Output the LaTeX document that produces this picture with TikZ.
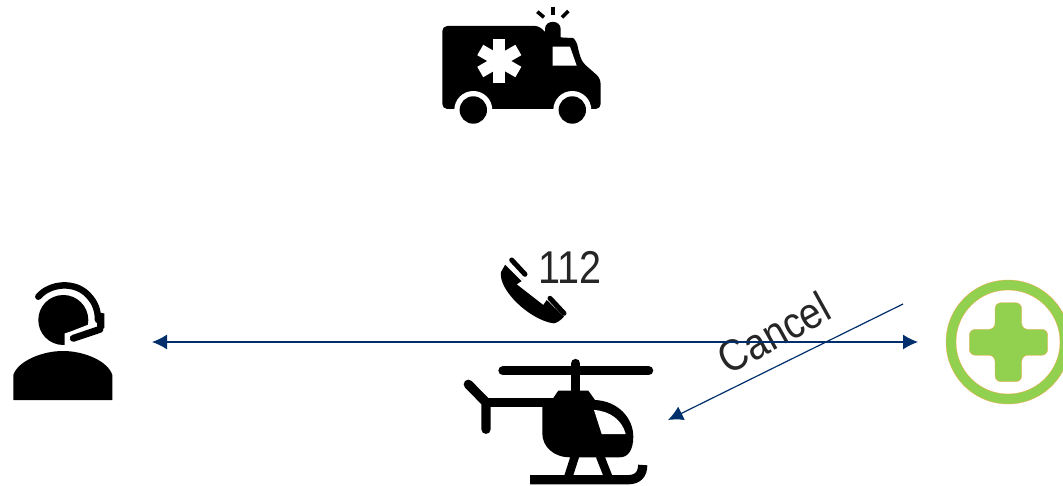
\documentclass[tikz,border=0pt]{standalone}
\usepackage{fontspec}
\setmainfont{Liberation Sans}
\usepackage{tikz}
\usetikzlibrary{arrows.meta,positioning,calc}
\definecolor{linkblue}{RGB}{0,47,108}
\definecolor{crossgreen}{RGB}{146,208,80}
\definecolor{labelgrey}{RGB}{38,38,38}
\tikzset{
    iconfill/.style={fill=black,draw=none},
    iconline/.style={draw=black,line width=9.3pt,line cap=round},
    iconspot/.style={inner sep=0pt,outer sep=0pt},
    linkarrow/.style={draw=linkblue,line width=1.2pt,-{Latex[length=15pt,width=15pt]}},
    linklabel/.style={text=labelgrey,inner sep=0pt}
}

\begin{document}
\begin{tikzpicture}[x=1pt,y=-1pt]
    \useasboundingbox (0,0) rectangle (1063,486);

    % invisible anchors of the four icons
    \node[iconspot,minimum width=180pt,minimum height=124pt] (operator) at (62,342) {};
    \node[iconspot,minimum width=180pt,minimum height=124pt] (hospital) at (1008,342) {};
    \node[iconspot,minimum width=222pt,minimum height=124pt] (helicopter) at (557,420) {};
    \node[iconspot,minimum width=160pt,minimum height=120pt] (ambulance) at (521,65) {};
    \coordinate (cancelstart) at (903,304);

    % ambulance
    \fill[iconfill,rounded corners=5pt] (442.3,26) -- (540,26) -- (545,33) -- (560.7,37.7) -- (568,37.7)
        .. controls (574,38) and (577,43) .. (578.3,50) -- (582,62) -- (600.5,78.3) -- (600.7,109) -- (442.3,109) -- cycle;
    \fill[iconfill] (545,36) -- (545,29) .. controls (545,19.5) and (560.7,19.5) .. (560.7,29) -- (560.7,38) -- cycle;
    \fill[white] (552.7,46.7) -- (570,46.7) -- (576.7,65.7) -- (552.7,65.7) -- cycle;
    \fill[white] (493.3,39) rectangle (505.3,83);
    \fill[white,rotate around={60:(499.3,61)}] (493.3,39) rectangle (505.3,83);
    \fill[white,rotate around={-60:(499.3,61)}] (493.3,39) rectangle (505.3,83);
    \fill[white] (473.3,110) circle[radius=19];
    \fill[white] (572.3,110) circle[radius=19];
    \fill[white] (450,109.5) rectangle (610,126);
    \fill[iconfill] (473.3,110) circle[radius=13.7];
    \fill[iconfill] (572.3,110) circle[radius=13.7];
    \draw[black,line width=3.6pt] (552.7,6.7) -- (552.7,15);
    \draw[black,line width=3.6pt] (537.3,11.7) -- (544,17.3);
    \draw[black,line width=3.6pt] (568.3,11) -- (562,17.3);

    % operator
    \fill[iconfill] (63.3,320) circle[radius=25];
    \fill[white] (64.5,333.5) -- (72,331) -- (95,322) -- (100,342) -- (64.5,348) -- cycle;
    \draw[black,line width=6.5pt,line cap=round] (38.3,296.7) .. controls (50,283) and (75,281) .. (88,295)
        .. controls (95,302) and (98,310) .. (98,320);
    \fill[iconfill] (97,312) -- (104.3,313.5) -- (104.3,328) -- (97,331) -- cycle;
    \draw[black,line width=7pt,line cap=round] (73.3,338.3) -- (100,329.3);
    \fill[iconfill] (13.3,400) -- (13.3,375) .. controls (18,361) and (42,351) .. (63,351)
        .. controls (84,351) and (108,361) .. (112.3,375) -- (112.3,400) -- cycle;

    % hospital
    \draw[even odd rule,fill=crossgreen,draw=orange!70,line width=0.3pt]
        (1008,342) circle[radius=62] (1008,342) circle[radius=52];
    \fill[crossgreen,draw=orange!70,line width=0.3pt,rounded corners=6pt]
        (995,302.7) -- (1021.7,302.7) -- (1021.7,329.3) -- (1047.7,329.3) -- (1047.7,355.3)
        -- (1021.7,355.3) -- (1021.7,381.7) -- (995,381.7) -- (995,355.3) -- (969.3,355.3)
        -- (969.3,329.3) -- (995,329.3) -- cycle;

    % helicopter
    \draw[iconline] (503,370.7) -- (648.6,370.7);
    \draw[iconline] (575.7,363.5) -- (575.7,392);
    \draw[iconline] (468.3,384.3) -- (486,402.3) -- (486,429.3);
    \fill[iconfill] (486,397.7) rectangle (556,407);
    \fill[iconfill] (558.3,390.7) -- (588.3,390.7) -- (595,400)
        .. controls (618,401) and (633.3,418) .. (633.3,436.7)
        .. controls (633.3,450) and (628,457.3) .. (620,457.3) -- (570,457.3)
        .. controls (553,457.3) and (542.3,446) .. (542.3,433.3) -- (542.3,405) -- (553.3,398) -- cycle;
    \fill[white] (594,410) -- (601.7,434) -- (625.7,434) .. controls (622,420) and (610,411) .. (594,410) -- cycle;
    \draw[black,line width=8.5pt] (575,456) -- (568.3,477);
    \draw[black,line width=8.5pt] (600,456) -- (608.3,477);
    \draw[black,line width=9.3pt] (530,479.7) -- (628,479.7) .. controls (638,479.7) and (642.7,474) .. (642.7,465);

    % handset
    \fill[iconfill] (506,263.3) -- (523.3,280) -- (516.7,284.3) -- (543.3,305) -- (546.7,300) -- (564,316.7)
        .. controls (560,321) and (556,323.3) .. (553.3,323.3)
        .. controls (530,320) and (498,290) .. (501,272) -- cycle;
    \draw[white,line width=2pt] (505,263) -- (523,281);
    \draw[black,line width=5pt,line cap=round] (511.7,260) -- (525,274.3);
    \draw[black,line width=5pt,line cap=round] (550,298.3) -- (564,313.3);

    \node[linklabel,font=\fontsize{46}{46}\selectfont] (number) at (570,267) {\scalebox{0.86}[1]{112}};
    \node[linklabel,font=\fontsize{44}{44}\selectfont,rotate=29] (cancel) at (774,333) {\scalebox{0.88}[1]{Cancel}};

    \draw[linkarrow,{Latex[length=15pt,width=15pt]}-{Latex[length=15pt,width=15pt]}] (operator.east) -- (hospital.west);
    \draw[linkarrow] (cancelstart) -- (helicopter.east);
\end{tikzpicture}
\end{document}
